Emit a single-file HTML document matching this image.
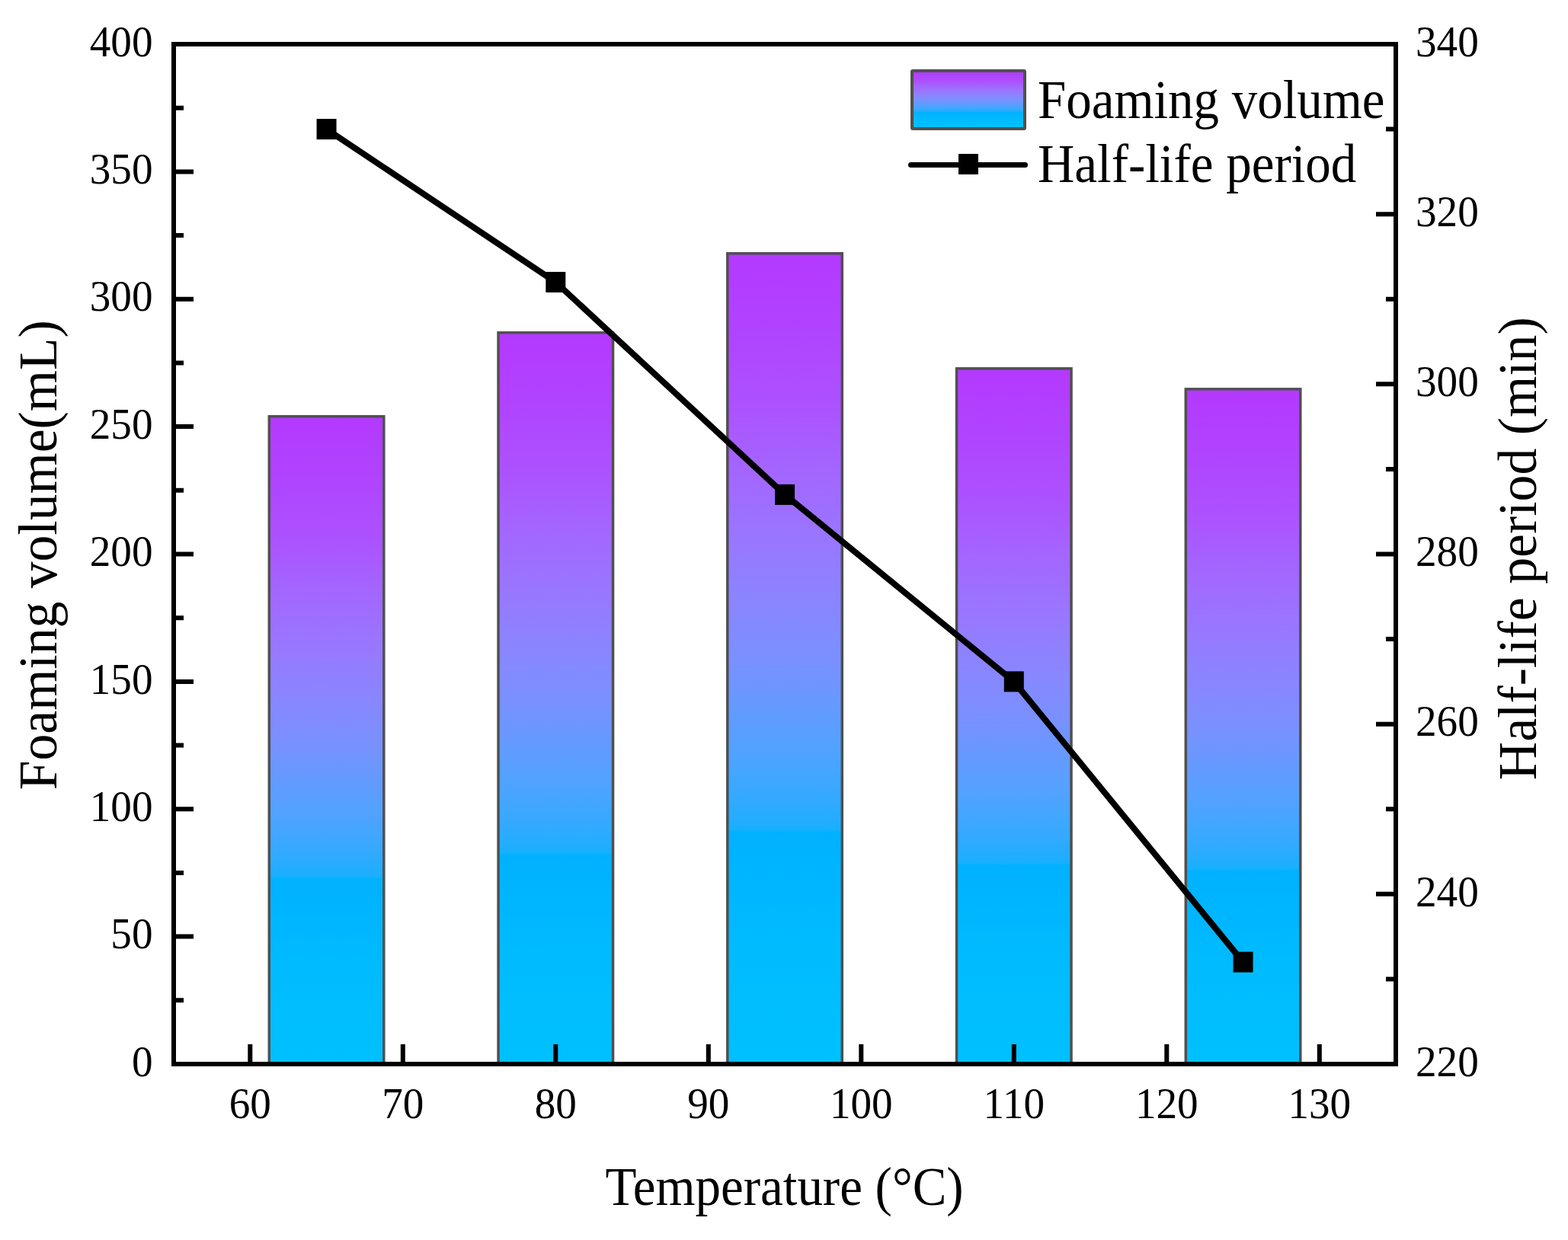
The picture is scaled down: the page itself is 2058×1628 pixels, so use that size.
<!DOCTYPE html><html><head><meta charset="utf-8"><style>html,body{margin:0;padding:0;background:#fff;}svg{display:block;}text{font-family:"Liberation Serif","Times New Roman",serif;fill:#000;}</style></head><body>
<svg width="2058" height="1628" viewBox="0 0 2058 1628">
<defs><linearGradient id="g" x1="0" y1="0" x2="0" y2="1">
<stop offset="0" stop-color="#B439FF"/>
<stop offset="0.1" stop-color="#B044FF"/>
<stop offset="0.19" stop-color="#AC52FF"/>
<stop offset="0.27" stop-color="#A366FF"/>
<stop offset="0.35" stop-color="#9976FF"/>
<stop offset="0.43" stop-color="#8A85FF"/>
<stop offset="0.5" stop-color="#7A90FF"/>
<stop offset="0.61" stop-color="#52A2FF"/>
<stop offset="0.66" stop-color="#3AA8FF"/>
<stop offset="0.7" stop-color="#22ADFF"/>
<stop offset="0.711" stop-color="#17B0FF"/>
<stop offset="0.714" stop-color="#00B1FF"/>
<stop offset="0.86" stop-color="#00BCFF"/>
<stop offset="1" stop-color="#00C0FF"/>
</linearGradient></defs>
<rect width="2058" height="1628" fill="#fff"/>
<rect x="353.30" y="546.75" width="150.5" height="850.25" fill="url(#g)" stroke="#505050" stroke-width="3.5"/>
<rect x="654.05" y="436.75" width="150.5" height="960.25" fill="url(#g)" stroke="#505050" stroke-width="3.5"/>
<rect x="954.80" y="332.75" width="150.5" height="1064.25" fill="url(#g)" stroke="#505050" stroke-width="3.5"/>
<rect x="1255.55" y="483.85" width="150.5" height="913.15" fill="url(#g)" stroke="#505050" stroke-width="3.5"/>
<rect x="1556.30" y="510.85" width="150.5" height="886.15" fill="url(#g)" stroke="#505050" stroke-width="3.5"/>
<path d="M228 1397.00h26M228 1313.31h13M228 1229.62h26M228 1145.94h13M228 1062.25h26M228 978.56h13M228 894.88h26M228 811.19h13M228 727.50h26M228 643.81h13M228 560.12h26M228 476.44h13M228 392.75h26M228 309.06h13M228 225.38h26M228 141.69h13M228 58.00h26M1832 1397.00h-26M1832 1285.42h-13M1832 1173.83h-26M1832 1062.25h-13M1832 950.67h-26M1832 839.08h-13M1832 727.50h-26M1832 615.92h-13M1832 504.34h-26M1832 392.75h-13M1832 281.17h-26M1832 169.59h-13M1832 58.00h-26M328.30 1397v-26M528.80 1397v-26M729.30 1397v-26M929.80 1397v-26M1130.30 1397v-26M1330.80 1397v-26M1531.30 1397v-26M1731.80 1397v-26" stroke="#000" stroke-width="6" fill="none"/>
<rect x="228" y="58" width="1604" height="1339" fill="none" stroke="#000" stroke-width="6"/>
<polyline points="428.55,169.59 729.30,370.44 1030.05,649.39 1330.80,894.88 1631.55,1263.10" fill="none" stroke="#000" stroke-width="8" stroke-linejoin="round"/>
<rect x="415.55" y="156.09" width="26" height="27" fill="#000"/>
<rect x="716.30" y="356.94" width="26" height="27" fill="#000"/>
<rect x="1017.05" y="635.89" width="26" height="27" fill="#000"/>
<rect x="1317.80" y="881.38" width="26" height="27" fill="#000"/>
<rect x="1618.55" y="1249.60" width="26" height="27" fill="#000"/>
<text transform="translate(200.5 1412.70) scale(0.985 1)" font-size="56" text-anchor="end">0</text>
<text transform="translate(200.5 1245.33) scale(0.985 1)" font-size="56" text-anchor="end">50</text>
<text transform="translate(200.5 1077.95) scale(0.985 1)" font-size="56" text-anchor="end">100</text>
<text transform="translate(200.5 910.58) scale(0.985 1)" font-size="56" text-anchor="end">150</text>
<text transform="translate(200.5 743.20) scale(0.985 1)" font-size="56" text-anchor="end">200</text>
<text transform="translate(200.5 575.83) scale(0.985 1)" font-size="56" text-anchor="end">250</text>
<text transform="translate(200.5 408.45) scale(0.985 1)" font-size="56" text-anchor="end">300</text>
<text transform="translate(200.5 241.07) scale(0.985 1)" font-size="56" text-anchor="end">350</text>
<text transform="translate(200.5 73.70) scale(0.985 1)" font-size="56" text-anchor="end">400</text>
<text transform="translate(1858 1412.70) scale(0.985 1)" font-size="56">220</text>
<text transform="translate(1858 1189.53) scale(0.985 1)" font-size="56">240</text>
<text transform="translate(1858 966.37) scale(0.985 1)" font-size="56">260</text>
<text transform="translate(1858 743.20) scale(0.985 1)" font-size="56">280</text>
<text transform="translate(1858 520.04) scale(0.985 1)" font-size="56">300</text>
<text transform="translate(1858 296.87) scale(0.985 1)" font-size="56">320</text>
<text transform="translate(1858 73.70) scale(0.985 1)" font-size="56">340</text>
<text transform="translate(328.30 1467.6) scale(0.985 1)" font-size="56" text-anchor="middle">60</text>
<text transform="translate(528.80 1467.6) scale(0.985 1)" font-size="56" text-anchor="middle">70</text>
<text transform="translate(729.30 1467.6) scale(0.985 1)" font-size="56" text-anchor="middle">80</text>
<text transform="translate(929.80 1467.6) scale(0.985 1)" font-size="56" text-anchor="middle">90</text>
<text transform="translate(1130.30 1467.6) scale(0.985 1)" font-size="56" text-anchor="middle">100</text>
<text transform="translate(1330.80 1467.6) scale(0.985 1)" font-size="56" text-anchor="middle">110</text>
<text transform="translate(1531.30 1467.6) scale(0.985 1)" font-size="56" text-anchor="middle">120</text>
<text transform="translate(1731.80 1467.6) scale(0.985 1)" font-size="56" text-anchor="middle">130</text>
<text transform="translate(1029.6 1582.4) scale(0.943 1)" font-size="71" text-anchor="middle">Temperature (°C)</text>
<text transform="translate(74 728.8) rotate(-90) scale(0.981 1)" font-size="71" text-anchor="middle">Foaming volume(mL)</text>
<text transform="translate(2016 720.3) rotate(-90) scale(0.982 1)" font-size="71" text-anchor="middle">Half-life period (min)</text>
<rect x="1197" y="92.9" width="148" height="76" rx="1" fill="url(#g)" stroke="#505050" stroke-width="4"/>
<line x1="1195.5" y1="216.5" x2="1345.5" y2="216.5" stroke="#000" stroke-width="7" stroke-linecap="round"/>
<rect x="1258" y="202" width="26" height="27" fill="#000"/>
<text transform="translate(1362 154.9) scale(0.943 1)" font-size="71">Foaming volume</text>
<text transform="translate(1362 238.9) scale(0.943 1)" font-size="71">Half-life period</text>
</svg></body></html>
